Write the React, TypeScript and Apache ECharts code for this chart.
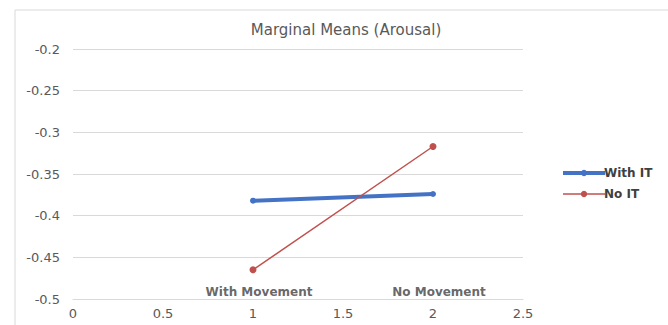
import React, { useEffect, useRef } from "react";
import * as echarts from "echarts";

const categories = ["With Movement", "No Movement"];
const xPositions = [1, 2];
const withIT = [-0.382, -0.374];
const noIT = [-0.465, -0.317];
const seriesNames = ["With IT", "No IT"];

export default function App() {
  const ref = useRef<HTMLDivElement>(null);
  useEffect(() => {
    if (!ref.current) return;
    const chart = echarts.init(ref.current, undefined, { renderer: "svg" });
    const font = "'DejaVu Sans', 'Open Sans', sans-serif";
    chart.setOption({
      animation: false,
      backgroundColor: "#ffffff",
      textStyle: { fontFamily: font },
      title: {
        text: "Marginal Means (Arousal)",
        left: 341,
        textAlign: "center",
        top: 17,
        textStyle: { fontSize: 15, fontWeight: "normal", color: "#595959", fontFamily: font },
      },
      graphic: [
        {
          type: "rect",
          shape: { x: 15, y: 10, width: 700, height: 400 },
          style: { fill: "none", stroke: "#d9d9d9", lineWidth: 1 },
          silent: true,
        },
      ],
      legend: {
        orient: "vertical",
        left: 556,
        top: 162,
        itemWidth: 42,
        itemHeight: 8,
        itemGap: 9,
        data: [
          { name: seriesNames[0], lineStyle: { width: 4 }, itemStyle: { borderWidth: 0 } },
          { name: seriesNames[1], lineStyle: { width: 1.5 } },
        ],
        textStyle: { fontSize: 12, fontWeight: "bold", color: "#404040", fontFamily: font, padding: [0, 0, 0, -6] },
      },
      grid: { left: 73, right: 145, top: 49, bottom: 26, containLabel: false },
      xAxis: {
        type: "value",
        min: 0,
        max: 2.5,
        interval: 0.5,
        axisLine: { show: true, lineStyle: { color: "#d9d9d9" } },
        axisTick: { show: false },
        splitLine: { show: false },
        axisLabel: {
          color: "#595959",
          fontSize: 13,
          margin: 8,
          formatter: (v: number) => String(+v.toFixed(2)),
        },
      },
      yAxis: {
        type: "value",
        min: -0.5,
        max: -0.2,
        interval: 0.05,
        axisLine: { show: false },
        axisTick: { show: false },
        splitLine: { lineStyle: { color: "#d9d9d9" } },
        axisLabel: {
          color: "#595959",
          fontSize: 13,
          margin: 13,
          formatter: (v: number) => String(+v.toFixed(2)),
        },
      },
      series: [
        {
          name: seriesNames[0],
          type: "line",
          data: xPositions.map((x, i) => [x, withIT[i]]),
          lineStyle: { color: "#4472C4", width: 4 },
          itemStyle: { color: "#4472C4" },
          symbol: "circle",
          symbolSize: 6,
          z: 3,
        },
        {
          name: seriesNames[1],
          type: "line",
          data: xPositions.map((x, i) => [x, noIT[i]]),
          lineStyle: { color: "#C0504D", width: 1.5 },
          itemStyle: { color: "#C0504D" },
          symbol: "circle",
          symbolSize: 7,
          z: 4,
        },
        {
          name: "categories",
          type: "scatter",
          data: xPositions.map((x) => [x, -0.5]),
          symbolSize: 0,
          silent: true,
          label: {
            show: true,
            position: "top",
            distance: 1,
            offset: [6, 0],
            formatter: (p: any) => categories[p.dataIndex],
            fontSize: 12,
            fontWeight: "bold",
            color: "#404040",
            fontFamily: font,
          },
        },
      ],
    });
    return () => chart.dispose();
  }, []);
  return <div ref={ref} style={{ width: 668, height: 325, position: "absolute", left: 0, top: 0 }} />;
}
